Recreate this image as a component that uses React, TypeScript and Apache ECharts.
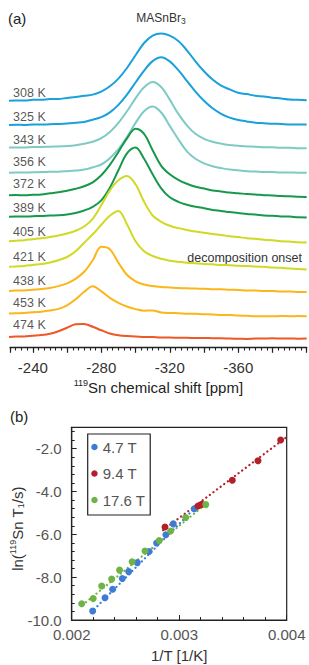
import React, { useEffect, useRef } from 'react';
import * as echarts from 'echarts';

// ---------- Panel (a): 119Sn NMR spectra ----------
const ppm = [-225, -230, -235, -240, -245, -250, -255, -260, -265, -270, -275, -280, -285, -290, -295, -300, -305, -310, -315, -320, -325, -330, -335, -340, -345, -350, -355, -360, -365, -370, -375, -380, -385, -390, -395, -400];

const temps = ['308 K', '325 K', '343 K', '356 K', '372 K', '389 K', '405 K', '421 K', '438 K', '453 K', '474 K'];

const s308 = [246.3, 246.9, 246.8, 247.5, 247.6, 248.2, 248.3, 249.4, 250.2, 251.5, 252.7, 255.7, 261.0, 268.7, 279.3, 292.0, 304.3, 311.7, 313.9, 311.7, 306.3, 297.0, 286.0, 276.0, 267.7, 261.7, 257.9, 254.5, 253.2, 251.5, 250.9, 249.6, 248.9, 247.8, 247.5, 247.0];
const s325 = [222.2, 222.5, 222.4, 222.8, 222.7, 223.1, 223.3, 223.7, 224.5, 225.4, 227.6, 230.1, 234.9, 242.4, 252.6, 264.8, 276.7, 286.2, 290.0, 285.9, 277.1, 266.5, 255.7, 246.5, 239.0, 233.5, 229.7, 227.4, 225.9, 224.6, 224.1, 223.5, 223.4, 222.9, 222.9, 222.7];
const s343 = [199.7, 199.9, 199.9, 200.2, 200.3, 200.6, 200.9, 201.3, 202.1, 203.5, 205.5, 209.1, 215.3, 224.4, 236.0, 249.0, 260.0, 265.3, 260.3, 247.7, 233.4, 222.0, 213.5, 208.5, 205.5, 203.7, 202.2, 201.6, 200.8, 200.6, 200.1, 200.0, 199.5, 199.5, 199.1, 199.0];
const s356 = [174.6, 174.8, 174.7, 175.1, 175.2, 175.5, 175.6, 176.1, 176.7, 177.7, 180.0, 182.8, 189.1, 198.1, 210.3, 224.4, 236.1, 240.8, 234.8, 221.4, 208.0, 196.0, 188.5, 184.0, 181.0, 179.2, 177.7, 177.0, 176.1, 175.8, 175.3, 175.2, 174.8, 174.9, 174.6, 174.6];
const s372 = [151.9, 152.2, 152.1, 152.5, 152.9, 154.0, 155.0, 156.5, 158.5, 161.0, 165.0, 172.0, 182.4, 195.3, 209.0, 218.6, 213.5, 197.0, 181.5, 173.0, 167.5, 163.5, 160.5, 158.7, 156.9, 155.9, 154.7, 154.1, 153.2, 152.8, 152.1, 151.8, 151.2, 151.1, 150.6, 150.4];
const s389 = [130.5, 130.7, 130.7, 131.1, 131.3, 131.8, 132.1, 132.9, 134.4, 136.8, 140.5, 147.0, 159.6, 177.1, 193.9, 199.8, 188.5, 173.0, 159.0, 150.0, 145.5, 142.5, 140.5, 139.1, 137.4, 136.4, 135.2, 134.4, 133.3, 132.7, 131.9, 131.5, 130.9, 130.7, 130.1, 129.9];
const s405 = [106.0, 106.6, 107.1, 108.1, 109.0, 110.4, 111.8, 113.8, 116.5, 120.8, 128.5, 142.0, 156.8, 167.0, 171.3, 163.0, 145.5, 131.8, 125.5, 121.5, 119.2, 117.4, 115.7, 114.6, 113.2, 112.3, 111.0, 110.2, 109.1, 108.5, 107.5, 107.0, 106.1, 105.7, 105.0, 104.7];
const s421 = [80.3, 80.9, 81.4, 82.4, 83.3, 84.9, 87.0, 90.3, 96.0, 104.5, 113.0, 122.5, 131.5, 136.3, 123.0, 106.0, 96.0, 91.3, 88.5, 86.6, 85.6, 84.6, 84.1, 83.3, 83.0, 82.3, 82.1, 81.5, 81.3, 80.7, 80.5, 79.8, 79.5, 78.8, 78.4, 77.8];
const s438 = [56.3, 56.7, 56.9, 57.6, 58.2, 59.3, 61.2, 64.0, 68.5, 75.5, 87.0, 100.5, 98.0, 84.5, 72.5, 66.0, 62.8, 61.2, 60.3, 59.8, 59.2, 59.1, 58.7, 58.6, 58.1, 58.0, 57.5, 57.4, 56.9, 56.8, 56.3, 56.3, 55.9, 55.9, 55.4, 55.3];
const s453 = [33.7, 34.1, 34.3, 35.0, 35.6, 36.7, 38.4, 42.0, 48.0, 55.5, 61.0, 56.0, 49.5, 44.5, 40.8, 38.2, 36.6, 36.8, 34.8, 34.3, 34.1, 33.6, 33.5, 33.0, 32.9, 32.4, 32.2, 31.7, 31.5, 31.0, 31.1, 31.0, 31.3, 31.1, 31.2, 31.0];
const s474 = [10.3, 10.7, 10.9, 11.6, 12.2, 13.5, 16.0, 19.5, 23.0, 23.3, 20.5, 17.0, 13.8, 12.0, 11.2, 10.9, 10.3, 10.2, 9.8, 9.8, 9.5, 9.6, 9.2, 9.3, 9.1, 9.1, 8.7, 8.6, 8.4, 8.7, 8.8, 9.0, 8.7, 8.8, 8.6, 8.7];

const spectra = [s308, s325, s343, s356, s372, s389, s405, s421, s438, s453, s474];
const spectrumColors = ['#1aa0da', '#1aa0da', '#7dcbc4', '#7dcbc4', '#16994b', '#16994b', '#d0d923', '#d0d923', '#fbb61a', '#fbb61a', '#ee5726'];
const labelLevels = [254, 230.6, 207.3, 185, 163, 139.6, 115.6, 90.6, 66.3, 44, 22.3];
const labelPpm = -228.2;

// ---------- Panel (b): relaxation ----------
const fields = ['4.7 T', '9.4 T', '17.6 T'];
const t47 = [[0.002195, -9.58], [0.00231, -8.96], [0.002381, -8.56], [0.002471, -8.06], [0.00253, -7.74], [0.00261, -7.32], [0.00272, -6.8], [0.00279, -6.4], [0.002876, -6.02], [0.002945, -5.51], [0.00314, -4.8]];
const t94 = [[0.002868, -5.66], [0.003175, -4.68], [0.00321, -4.6], [0.003494, -3.47], [0.003733, -2.56], [0.003944, -1.59]];
const t176 = [[0.002093, -9.24], [0.0022, -9.0], [0.002279, -8.41], [0.002372, -8.09], [0.002445, -7.67], [0.002562, -7.28], [0.002682, -6.78], [0.002814, -6.29], [0.00292, -5.84], [0.00306, -5.21], [0.003247, -4.61]];
const fit47 = [[0.00218, -9.65], [0.00316, -4.7]];
const fit94 = [[0.00285, -5.8], [0.004, -1.45]];
const fit176 = [[0.0021, -9.3], [0.00322, -4.7]];
const fieldData = [t47, t94, t176];
const fitData = [fit47, fit94, fit176];
const fieldColors = ['#3e7bd5', '#b3202a', '#6db347'];

const FONT = '"Liberation Sans", Arial, Helvetica, sans-serif';

export default function App() {
  const ref = useRef<HTMLDivElement>(null);
  useEffect(() => {
    if (!ref.current) return;
    const chart = echarts.init(ref.current, undefined, { renderer: 'svg' });
    const axisColor = '#222';

    const spectrumSeries = spectra.map((vals, i) => ({
      type: 'line',
      name: temps[i],
      xAxisIndex: 0,
      yAxisIndex: 0,
      data: ppm.map((p, j) => [p, vals[j]]),
      smooth: 0.35,
      symbol: 'none',
      clip: true,
      lineStyle: { color: spectrumColors[i], width: 2 },
      itemStyle: { color: spectrumColors[i] },
      z: 2,
    }));

    const labelSeries = {
      type: 'scatter',
      name: 'temps',
      xAxisIndex: 0,
      yAxisIndex: 0,
      symbolSize: 1,
      silent: true,
      itemStyle: { color: 'rgba(0,0,0,0)' },
      data: temps.map((t, i) => ({ name: t, value: [labelPpm, labelLevels[i]] })),
      label: {
        show: true,
        position: 'right',
        distance: 0,
        formatter: '{b}',
        fontSize: 12.5,
        fontFamily: FONT,
        color: '#2a2a2a',
      },
      z: 5,
    };

    const fitSeries = fitData.map((d, i) => ({
      type: 'line',
      name: 'fit ' + fields[i],
      xAxisIndex: 2,
      yAxisIndex: 1,
      data: d,
      symbol: 'none',
      silent: true,
      lineStyle: { color: fieldColors[i], width: 2.2, type: [0.1, 4.4], cap: 'round' },
      z: 2,
    }));

    const pointSeries = fieldData.map((d, i) => ({
      type: 'scatter',
      name: fields[i],
      xAxisIndex: 2,
      yAxisIndex: 1,
      data: d,
      symbol: 'circle',
      symbolSize: 7,
      itemStyle: { color: fieldColors[i], opacity: 1 },
      z: 3,
    }));

    const option: any = {
      animation: false,
      textStyle: { fontFamily: FONT },
      grid: [
        { left: 10, top: 7, width: 296.7, height: 340.3, show: false, outerBoundsMode: 'none', containLabel: false },
        { left: 71.7, top: 427.3, width: 215, height: 192.7, show: true, borderColor: axisColor, borderWidth: 1.2, backgroundColor: 'transparent', outerBoundsMode: 'none', containLabel: false },
      ],
      xAxis: [
        {
          type: 'value', gridIndex: 0, min: -400, max: -226.6667, inverse: true, interval: 20, position: 'bottom',
          axisLine: { show: true, onZero: false, lineStyle: { color: axisColor, width: 1.3 } },
          axisTick: { show: true, inside: false, length: 5.5, lineStyle: { color: axisColor, width: 1.2 } },
          minorTick: { show: false },
          splitLine: { show: false },
          axisLabel: {
            show: true, margin: 13, fontSize: 15, color: '#333', fontFamily: FONT,
            formatter: (v: number) => (Math.abs(v % 40) < 1e-6 && v > -399 ? String(v) : ''),
          },
          name: '{sup|119}Sn chemical shift [ppm]',
          nameLocation: 'middle', nameGap: 31.5, nameMoveOverlap: false,
          nameTextStyle: {
            fontSize: 15, color: '#222', lineHeight: 17, fontFamily: FONT,
            rich: { sup: { fontSize: 9, lineHeight: 10, verticalAlign: 'top', color: '#222', fontFamily: FONT } },
          },
        },
        {
          type: 'value', gridIndex: 0, min: -400, max: -226.6667, inverse: true, interval: 10 / 3, position: 'bottom',
          axisLine: { show: false },
          axisTick: { show: true, inside: false, length: 3.2, lineStyle: { color: axisColor, width: 1.1 } },
          axisLabel: { show: false },
          splitLine: { show: false },
        },
        {
          type: 'value', gridIndex: 1, min: 0.002, max: 0.004, interval: 0.001, position: 'bottom',
          axisLine: { show: true, onZero: false, lineStyle: { color: axisColor, width: 1.2 } },
          axisTick: { show: true, inside: true, length: 5, lineStyle: { color: axisColor, width: 1 } },
          minorTick: { show: true, splitNumber: 5, length: 3, lineStyle: { color: axisColor, width: 1 } },
          splitLine: { show: false },
          minorSplitLine: { show: false },
          axisLabel: { margin: 7, fontSize: 15, color: '#555', fontFamily: FONT, formatter: (v: number) => v.toFixed(3) },
          name: '1/T [1/K]', nameLocation: 'middle', nameGap: 27.5, nameMoveOverlap: false,
          nameTextStyle: { fontSize: 15, color: '#333', fontFamily: FONT },
        },
      ],
      yAxis: [
        { type: 'value', gridIndex: 0, min: 0, max: 340.3, show: false },
        {
          type: 'value', gridIndex: 1, min: -10, max: -1, interval: 2, position: 'left',
          axisLine: { show: true, onZero: false, lineStyle: { color: axisColor, width: 1.2 } },
          axisTick: { show: true, inside: true, length: 5, lineStyle: { color: axisColor, width: 1 } },
          splitLine: { show: false },
          axisLabel: {
            margin: 10, fontSize: 15, color: '#555', fontFamily: FONT,
            formatter: (v: number) => (Number.isInteger(Math.round(v * 1000) / 2000) ? v.toFixed(1) : ''),
          },
          name: 'ln({sup|119}Sn T{sub|1}/s)',
          nameLocation: 'middle', nameGap: 46, nameRotate: 90, nameMoveOverlap: false,
          nameTextStyle: {
            fontSize: 15, color: '#333', lineHeight: 17, fontFamily: FONT, padding: [0, 10, 0, 0],
            rich: {
              sup: { fontSize: 9, lineHeight: 10, verticalAlign: 'top', color: '#333', fontFamily: FONT },
              sub: { fontSize: 9, lineHeight: 7, verticalAlign: 'bottom', color: '#333', fontFamily: FONT },
            },
          },
        },
        {
          type: 'value', gridIndex: 1, min: -10, max: -1, interval: 0.4, position: 'left',
          axisLine: { show: false },
          axisTick: { show: true, inside: true, length: 3, lineStyle: { color: axisColor, width: 1 } },
          axisLabel: { show: false },
          splitLine: { show: false },
        },
      ],
      legend: {
        show: true,
        data: fields,
        orient: 'vertical',
        left: 87.7,
        top: 434,
        icon: 'circle',
        itemWidth: 6.5,
        itemHeight: 6.5,
        itemGap: 11.5,
        padding: [5.5, 5, 7.5, 3.5],
        borderColor: axisColor,
        borderWidth: 1.2,
        borderRadius: 0,
        backgroundColor: '#fff',
        selectedMode: false,
        textStyle: { fontSize: 15, color: '#555', fontFamily: FONT },
      },
      graphic: [
        { type: 'text', x: 8, y: 18, style: { text: '(a)', fontSize: 15, fontFamily: FONT, fill: '#222', align: 'left', verticalAlign: 'middle' } },
        { type: 'text', x: 10, y: 416.5, style: { text: '(b)', fontSize: 15, fontFamily: FONT, fill: '#222', align: 'left', verticalAlign: 'middle' } },
        {
          type: 'text', x: 161, y: 17.5,
          style: {
            text: 'MASnBr{sub|3}', fontSize: 12, lineHeight: 15, fontFamily: FONT, fill: '#333', align: 'center', verticalAlign: 'middle',
            rich: { sub: { fontSize: 8.5, lineHeight: 6, verticalAlign: 'bottom', fill: '#333', fontFamily: FONT } },
          },
        },
        { type: 'text', x: 302, y: 258, style: { text: 'decomposition onset', fontSize: 12.5, fontFamily: FONT, fill: '#333', align: 'right', verticalAlign: 'middle' } },
      ],
      series: [...spectrumSeries, labelSeries, ...fitSeries, ...pointSeries],
    };
    chart.setOption(option);
    return () => chart.dispose();
  }, []);

  return (
    <div
      ref={ref}
      style={{ position: 'fixed', left: 0, top: 0, width: 309, height: 665, background: '#fff' }}
    />
  );
}
